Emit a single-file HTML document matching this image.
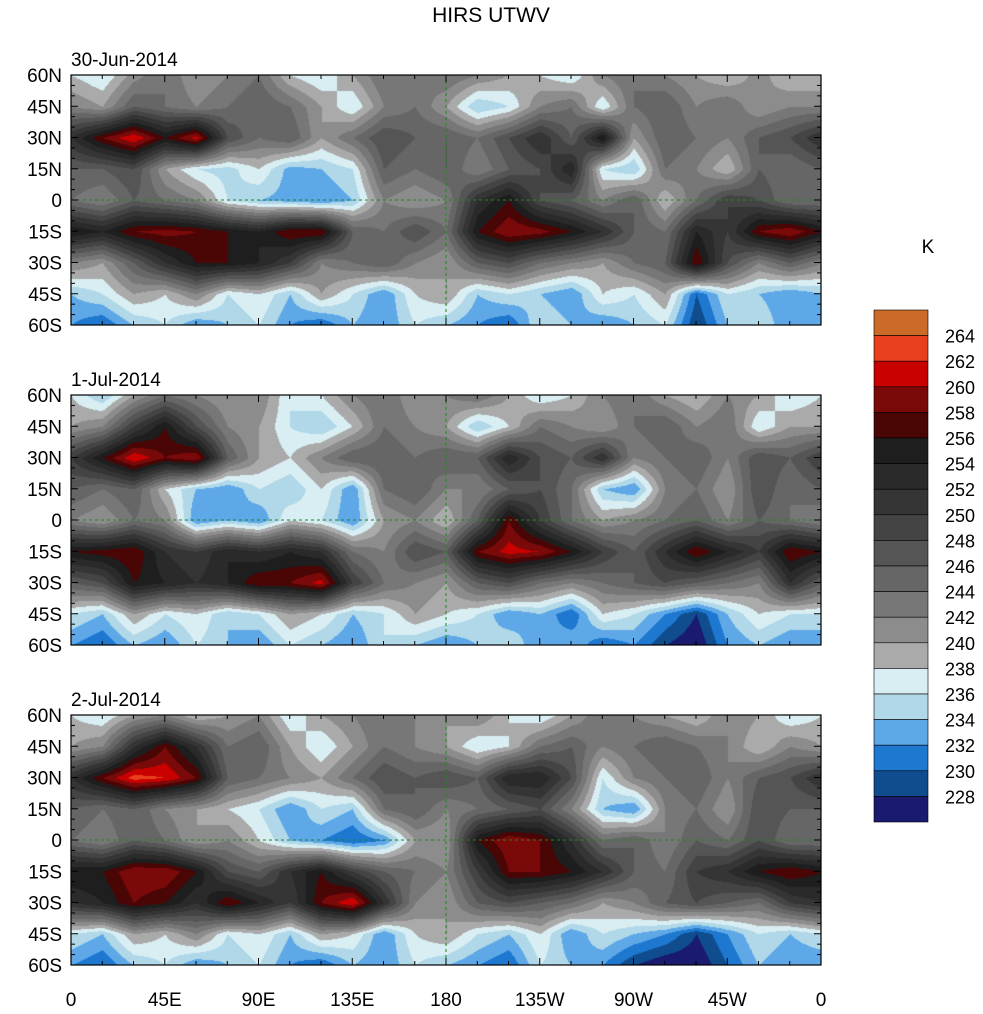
<!DOCTYPE html>
<html><head><meta charset="utf-8"><style>
body{margin:0;background:#fff;font-family:"Liberation Sans",sans-serif}
#wrap{position:relative;width:983px;height:1014px;overflow:hidden}
canvas{position:absolute}
svg{position:absolute;left:0;top:0}
</style></head><body>
<div id="wrap">
<canvas id="c0" width="750" height="250" style="left:71px;top:75px"></canvas>
<canvas id="c1" width="750" height="250" style="left:71px;top:395px"></canvas>
<canvas id="c2" width="750" height="250" style="left:71px;top:715px"></canvas>
<svg id="ov" width="983" height="1014"></svg>
</div>
<script>
const levels=[228,230,232,234,236,238,240,242,244,246,248,250,252,254,256,258,260,262,264];
const colors=["#1a1a6e","#0f4d8f","#1e78d0","#5ea8e8","#b0d8e8","#d8eef2","#aaaaaa","#8c8c8c","#777777","#666666","#555555","#444444","#353535","#2a2a2a","#1e1e1e","#4a0505","#7a0a0a","#c80000","#e8401c","#cc6a28"];
const lonLabels=["0","45E","90E","135E","180","135W","90W","45W","0"];
const latLabels=["60N","45N","30N","15N","0","15S","30S","45S","60S"];
const dates=["30-Jun-2014","1-Jul-2014","2-Jul-2014"];
// grid: rows 60N..60S step 15, cols 0..360 step 15
const field0=[
[238,236,241,244,240,242,244,238,236,240,244,242,244,242,240,238,236,242,244,242,240,238,241,238,238],
[242,240,246,244,242,244,246,244,240,236,242,244,240,234,236,242,244,236,244,246,242,244,240,242,242],
[252,258,262,256,261,248,244,246,240,244,248,246,246,244,248,252,246,256,240,246,244,242,246,248,252],
[246,246,248,240,236,235,238,233,234,236,246,244,246,242,246,248,254,236,234,244,242,238,246,244,246],
[244,242,246,244,242,236,234,233,232,234,242,240,242,252,256,248,246,242,246,238,244,250,248,244,244],
[256,254,258,259,258,256,254,258,258,246,244,248,244,256,260,259,256,252,246,244,254,250,258,260,256],
[242,240,246,252,256,256,254,250,242,244,246,242,240,246,248,244,242,240,244,246,258,248,242,246,242],
[234,236,240,238,242,236,238,234,240,236,232,238,240,234,236,234,232,238,236,240,230,236,234,232,234],
[232,230,234,236,232,234,236,232,230,234,232,236,234,232,230,236,234,232,234,236,228,234,236,232,232]];
const field1=[
[238,234,240,244,242,240,242,236,238,242,244,240,242,244,240,236,238,242,244,240,238,242,240,236,238],
[240,242,250,256,248,242,240,236,234,238,244,242,240,234,238,244,242,240,244,246,242,244,236,240,240],
[250,256,262,258,260,246,240,238,242,246,246,244,246,246,254,248,246,252,242,244,246,242,248,246,250],
[246,244,246,238,234,232,236,234,238,232,244,246,242,242,246,248,244,234,232,242,244,240,248,244,246],
[242,240,244,242,232,234,232,238,236,232,240,242,238,246,258,250,244,240,242,244,246,242,246,244,242],
[256,257,258,252,250,254,252,254,252,244,242,248,246,258,261,260,256,250,246,252,258,254,250,258,256],
[246,248,256,254,252,254,258,258,261,250,244,242,240,246,248,244,242,244,246,248,246,244,242,252,246],
[236,234,240,236,238,234,236,240,238,234,236,240,238,236,232,234,230,238,236,232,228,234,238,236,236],
[232,230,234,232,236,234,232,236,234,232,236,234,232,234,236,232,234,230,232,228,226,232,234,232,232]];
const field2=[
[238,236,240,242,238,240,242,236,240,242,244,242,240,242,238,236,240,244,242,240,238,242,240,236,238],
[240,242,252,258,252,244,246,240,236,240,244,242,240,236,238,244,246,242,244,246,244,242,238,242,240],
[252,258,263,262,258,246,244,242,240,244,248,246,248,246,254,254,248,236,242,244,246,242,246,248,252],
[246,244,246,242,240,238,236,232,236,234,244,246,242,244,246,248,242,234,232,242,244,240,248,246,246],
[244,242,246,244,240,242,238,234,232,230,232,240,240,256,260,258,252,244,246,242,246,244,248,244,244],
[256,256,260,260,256,248,246,252,256,250,246,244,242,250,258,258,256,252,246,244,250,252,256,258,256],
[252,254,258,256,252,258,254,250,258,262,252,242,240,246,248,246,244,240,242,246,248,246,244,250,252],
[236,234,240,238,242,236,238,234,240,238,232,238,240,236,234,238,232,236,234,232,228,232,236,234,236],
[232,230,234,236,232,234,236,232,230,234,232,236,234,232,230,236,234,232,228,226,226,230,234,232,232]];
const fields=[field0,field1,field2];
const panelTops=[75,395,715];
const X0=71,W=750,H=250;
function hex(c){return [parseInt(c.substr(1,2),16),parseInt(c.substr(3,2),16),parseInt(c.substr(5,2),16)];}
const rgb=colors.map(hex);
function sample(f,lon,lat){const c=lon/15,r=(60-lat)/15;const c0=Math.min(23,Math.floor(c)),r0=Math.min(7,Math.floor(r));const fx=c-c0,fy=r-r0;
const a=f[r0][c0]*(1-fx)+f[r0][c0+1]*fx,b=f[r0+1][c0]*(1-fx)+f[r0+1][c0+1]*fx;return a*(1-fy)+b*fy;}
fields.forEach((f,p)=>{const cv=document.getElementById('c'+p),ctx=cv.getContext('2d');const img=ctx.createImageData(W,H);
for(let y=0;y<H;y++)for(let x=0;x<W;x++){const v=sample(f,x/W*360,60-y/H*120);let i=0;while(i<levels.length&&v>=levels[i])i++;const k=(y*W+x)*4;img.data[k]=rgb[i][0];img.data[k+1]=rgb[i][1];img.data[k+2]=rgb[i][2];img.data[k+3]=255;}
ctx.putImageData(img,0,0);});
const NS='http://www.w3.org/2000/svg',ov=document.getElementById('ov');
function el(t,a,txt){const e=document.createElementNS(NS,t);for(const k in a)e.setAttribute(k,a[k]);if(txt!==undefined)e.textContent=txt;ov.appendChild(e);return e;}
const lonX=l=>X0+l/360*W;
let t=el('text',{x:491,y:22,'text-anchor':'middle','font-size':21},'HIRS UTWV');


panelTops.forEach((top,p)=>{const latY=l=>top+(60-l)/120*H;
 let d=el('text',{x:71,y:top-9,'font-size':19},dates[p]);
 
 
 el('line',{x1:X0,x2:X0+W,y1:latY(0),y2:latY(0),stroke:'#1a8a1a','stroke-dasharray':'3,3','stroke-width':1});
 el('line',{x1:lonX(180),x2:lonX(180),y1:top,y2:top+H,stroke:'#1a8a1a','stroke-dasharray':'3,3','stroke-width':1});
 let fr=el('rect',{x:X0,y:top,width:W,height:H,fill:'none',stroke:'#000','stroke-width':1.2});
 
 
 for(let l=0;l<=360;l+=15){const maj=l%45==0,len=maj?7:4,x=lonX(l);
  el('line',{x1:x,x2:x,y1:top,y2:top+len,stroke:'#000'});el('line',{x1:x,x2:x,y1:top+H,y2:top+H-len,stroke:'#000'});}
 for(let l=60;l>=-60;l-=5){const maj=l%15==0,len=maj?7:4,y=latY(l);
  el('line',{x1:X0,x2:X0+len,y1:y,y2:y,stroke:'#000'});el('line',{x1:X0+W,x2:X0+W-len,y1:y,y2:y,stroke:'#000'});}
 latLabels.forEach((s,i)=>{const lb=el('text',{x:62,y:top+i*H/8+7,'text-anchor':'end','font-size':19},s);
  
  });
});
lonLabels.forEach((s,i)=>{const lb=el('text',{x:X0+i*W/8,y:1006,'text-anchor':'middle','font-size':19},s);
 
 });
const cbTop=310,cbH=512/20;
for(let i=0;i<20;i++){const r=el('rect',{x:874,y:cbTop+i*cbH,width:54,height:cbH,fill:colors[19-i],stroke:'#000','stroke-width':0.6});
 
 }
for(let i=0;i<levels.length;i++){const lv=levels[levels.length-1-i];const lb=el('text',{x:945,y:cbTop+(i+1)*cbH+7,'font-size':18},String(lv));
 
 }
let k=el('text',{x:928,y:253,'text-anchor':'middle','font-size':19},'K');


</script>
</body></html>
